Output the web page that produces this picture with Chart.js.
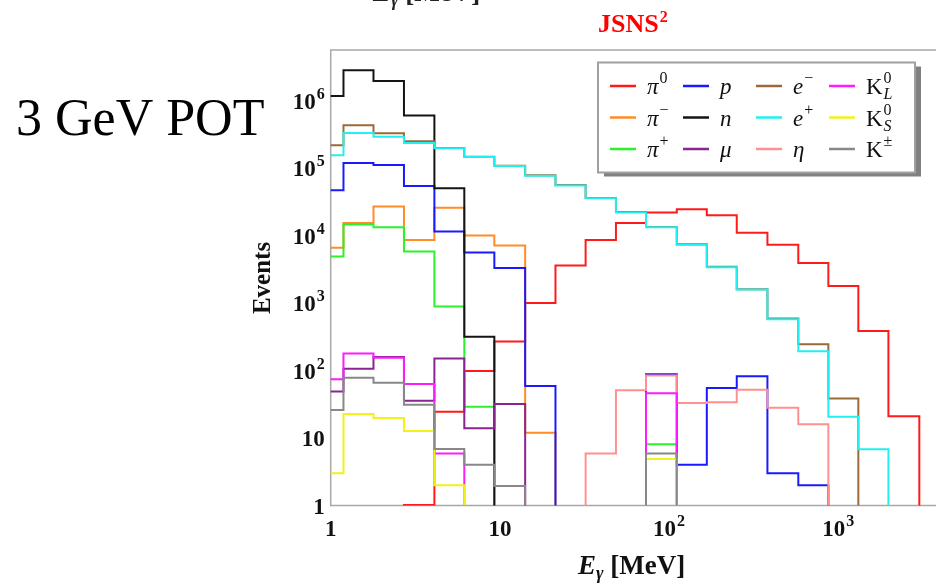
<!DOCTYPE html>
<html lang="en">
<head>
<meta charset="utf-8">
<title>JSNS² - photon energy spectrum by parent particle</title>
<script src="https://cdn.jsdelivr.net/npm/chart.js@4.4.1/dist/chart.umd.min.js"></script>
<style>
    html, body { margin: 0; padding: 0; background: #ffffff; overflow: hidden; }
    #wrap { width: 960px; height: 583px; }
</style>
</head>
<body>
<div id="wrap"><canvas id="spectrum" width="960" height="583"></canvas></div>
<script>
/**
 * Photon energy spectrum (E_gamma) per parent particle, 3 GeV POT, JSNS².
 * Step histograms on log-log axes, drawn as stepped Chart.js lines.
 */

// Bin edges in MeV (20 log-spaced bins, the first one is cut by the axis)
const BIN_EDGES = [0.79, 1.19, 1.79, 2.71, 4.10, 6.16, 9.27, 14.1, 21.3, 32.1, 48.5,
                   73.0, 111, 167, 251, 381, 580, 873, 1313, 1977, 3010];

// Events per bin (0 = empty bin)
const PI0    = [0, 0, 0, 1.02, 24.5, 98, 270, 1000, 3600, 8600, 15300, 22000, 24400, 20000, 11000, 7300, 3900, 1780, 385, 21];
const PI_MIN = [6600, 15300, 27000, 8600, 25700, 10000, 7100, 12, 0, 0, 0, 0, 0, 0, 0, 0, 0, 0, 0, 0];
const PI_PLU = [4900, 14500, 13200, 5800, 890, 29, 0, 0, 0, 0, 0, 8.1, 0, 0, 0, 0, 0, 0, 0, 0];
const PROTON = [47000, 119000, 111000, 54000, 11500, 5600, 3300, 59, 0, 0, 0, 88, 4.0, 55, 82, 3.0, 2.0, 0, 0, 0];
const NEUTRON = [1170000, 2800000, 1950000, 600000, 50000, 315, 0, 0, 0, 0, 0, 0, 0, 0, 0, 0, 0, 0, 0, 0];
const MUON   = [49, 106, 159, 35.5, 150, 13.9, 32, 0, 0, 0, 0, 0, 0, 0, 0, 0, 0, 0, 0, 0];
const E_MIN  = [218000, 430000, 327000, 250000, 198000, 147000, 108000, 78000, 56000, 36000, 22200, 13400, 7400, 3450, 1600, 590, 245, 38.6, 0, 0];
const E_PLU  = [155000, 330000, 290000, 235000, 196000, 146000, 107000, 77000, 55000, 35500, 22000, 13200, 7300, 3400, 1580, 575, 193, 20.6, 6.8, 0];
const ETA    = [0, 0, 0, 0, 0, 0, 0, 0, 0, 5.9, 51, 84, 33, 34, 52, 28, 16, 0, 0, 0];
const K0_L   = [74, 178, 155, 63, 5.9, 0, 0, 0, 0, 0, 0, 46, 0, 0, 0, 0, 0, 0, 0, 0];
const K0_S   = [3.0, 22.6, 19.7, 12.7, 2.0, 0, 0, 0, 0, 0, 0, 4.9, 0, 0, 0, 0, 0, 0, 0, 0];
const K_PM   = [26, 78, 66, 31, 6.9, 4.0, 1.95, 0, 0, 0, 0, 5.9, 0, 0, 0, 0, 0, 0, 0, 0];

// Axis tick labels: [value, base text, exponent]
const X_TICKS = [[1, '1', ''], [10, '10', ''], [100, '10', '2'], [1000, '10', '3']];
const Y_TICKS = [[1, '1', ''], [10, '10', ''], [100, '10', '2'], [1e3, '10', '3'],
                 [1e4, '10', '4'], [1e5, '10', '5'], [1e6, '10', '6']];

// Legend order is column-major, same as the drawing order (later = on top)
const SERIES = [
    { data: PI0,     color: '#ff1a1a', sym: 'π', sup: '0', italic: true },
    { data: PI_MIN,  color: '#ff8c26', sym: 'π', sup: '−', italic: true },
    { data: PI_PLU,  color: '#2bf22b', sym: 'π', sup: '+', italic: true },
    { data: PROTON,  color: '#1a1aff', sym: 'p', italic: true },
    { data: NEUTRON, color: '#141414', sym: 'n', italic: true },
    { data: MUON,    color: '#8a248f', sym: 'μ', italic: true },
    { data: E_MIN,   color: '#9c6a38', sym: 'e', sup: '−', italic: true },
    { data: E_PLU,   color: '#22f0f0', sym: 'e', sup: '+', italic: true },
    { data: ETA,     color: '#ff9090', sym: 'η', italic: true },
    { data: K0_L,    color: '#ff1aff', sym: 'K', sup: '0', sub: 'L' },
    { data: K0_S,    color: '#f2f21a', sym: 'K', sup: '0', sub: 'S' },
    { data: K_PM,    color: '#888888', sym: 'K', sup: '±' }
];

const SERIF = '"Liberation Serif", "DejaVu Serif", serif';
const FRAME_COLOR = '#a8a8a8';
const EMPTY = 1e-3; // empty bins fall far below the axis and get clipped

/**
 * Turns bin contents into points for a step line (value held until next edge)
 */
function toSteps(values) {
    const points = values.map((v, i) => ({ x: BIN_EDGES[i], y: v > 0 ? v : EMPTY }));
    points.push({ x: BIN_EDGES[values.length], y: EMPTY });
    return points;
}

/**
 * Draws "base^exp" with the given alignment
 */
function drawPower(ctx, base, exp, x, y, align, size, supSize) {
    ctx.font = `bold ${size}px ${SERIF}`;
    const wb = ctx.measureText(base).width;
    ctx.font = `bold ${supSize}px ${SERIF}`;
    const we = exp ? ctx.measureText(exp).width + 1 : 0;
    let x0 = x;
    if (align === 'right') x0 = x - wb - we;
    if (align === 'center') x0 = x - (wb + we) / 2;
    ctx.textAlign = 'left';
    ctx.textBaseline = 'alphabetic';
    ctx.font = `bold ${size}px ${SERIF}`;
    ctx.fillText(base, x0, y);
    if (exp) {
        ctx.font = `bold ${supSize}px ${SERIF}`;
        ctx.fillText(exp, x0 + wb + 1, y - 10);
    }
}

/**
 * Legend box with line samples and particle symbols
 */
function drawLegend(ctx) {
    const box = { x: 598, y: 62.5, w: 317, h: 110 };
    ctx.fillStyle = '#808080';
    ctx.fillRect(box.x + 6, box.y + 4, box.w, box.h);
    ctx.fillStyle = '#ffffff';
    ctx.fillRect(box.x, box.y, box.w, box.h);
    ctx.strokeStyle = '#a0a0a0';
    ctx.lineWidth = 2;
    ctx.strokeRect(box.x, box.y, box.w, box.h);

    SERIES.forEach((s, i) => {
        const col = Math.floor(i / 3);
        const row = i % 3;
        const lx = 610 + col * 73;
        const ly = 86 + row * 31.5;

        ctx.strokeStyle = s.color;
        ctx.lineWidth = 2.5;
        ctx.beginPath();
        ctx.moveTo(lx, ly);
        ctx.lineTo(lx + 26, ly);
        ctx.stroke();

        const tx = lx + 37;
        const base = ly + 8;
        ctx.fillStyle = '#111111';
        ctx.textAlign = 'left';
        ctx.textBaseline = 'alphabetic';
        ctx.font = `${s.italic ? 'italic ' : ''}23px ${SERIF}`;
        ctx.fillText(s.sym, tx, base);
        const w = ctx.measureText(s.sym).width;
        if (s.sup) {
            ctx.font = `16px ${SERIF}`;
            ctx.fillText(s.sup, tx + w + 1, base - 11);
        }
        if (s.sub) {
            ctx.font = `italic 16px ${SERIF}`;
            ctx.fillText(s.sub, tx + w + 1, base + 5);
        }
    });
}

/**
 * "E_gamma [MeV]" with subscript
 */
function drawEnergyLabel(ctx, x, y, color) {
    ctx.fillStyle = color;
    ctx.textAlign = 'left';
    ctx.textBaseline = 'alphabetic';
    ctx.font = `italic bold 27px ${SERIF}`;
    ctx.fillText('E', x, y);
    let cx = x + ctx.measureText('E').width;
    ctx.font = `italic bold 18px ${SERIF}`;
    ctx.fillText('γ', cx, y + 5);
    cx += ctx.measureText('γ').width;
    ctx.font = `bold 27px ${SERIF}`;
    ctx.fillText(' [MeV]', cx, y);
}

// Plugin for frame, tick labels, titles and legend
const decorPlugin = {
    id: 'decor',
    beforeDatasetsDraw(chart) {
        const { ctx, chartArea: a } = chart;
        ctx.save();
        ctx.strokeStyle = FRAME_COLOR;
        ctx.lineWidth = 1.5;
        ctx.strokeRect(a.left, a.top, a.right - a.left, a.bottom - a.top);
        ctx.restore();
    },
    afterDatasetsDraw(chart) {
        const { ctx, chartArea: a, scales } = chart;
        ctx.save();

        drawLegend(ctx);

        // Tick labels
        ctx.fillStyle = '#111111';
        Y_TICKS.forEach(([v, base, exp]) => {
            drawPower(ctx, base, exp, a.left - 6, scales.y.getPixelForValue(v) + 8, 'right', 23, 16);
        });
        X_TICKS.forEach(([v, base, exp]) => {
            drawPower(ctx, base, exp, scales.x.getPixelForValue(v), 536, 'center', 23, 16);
        });

        // Axis titles
        ctx.save();
        ctx.translate(264, 278);
        ctx.rotate(-Math.PI / 2);
        ctx.font = `bold 25px ${SERIF}`;
        ctx.textAlign = 'center';
        ctx.textBaseline = 'middle';
        ctx.fillText('Events', 0, 0);
        ctx.restore();

        drawEnergyLabel(ctx, 578, 574, '#111111');
        // cut-off label of the panel above
        drawEnergyLabel(ctx, 373, 0.5, '#222222');

        // Panel title
        ctx.fillStyle = '#ff0000';
        ctx.font = `bold 26px ${SERIF}`;
        ctx.textAlign = 'left';
        ctx.fillText('JSNS', 598, 32);
        const wt = ctx.measureText('JSNS').width;
        ctx.font = `bold 16px ${SERIF}`;
        ctx.fillText('2', 598 + wt + 1, 22);

        // Beam note
        ctx.fillStyle = '#000000';
        ctx.font = `52px ${SERIF}`;
        ctx.fillText('3 GeV POT', 16, 135);

        ctx.restore();
    }
};

const datasets = SERIES.map((s, i) => ({
    data: toSteps(s.data),
    borderColor: s.color,
    borderWidth: 2,
    stepped: 'before',
    pointRadius: 0,
    fill: false,
    order: SERIES.length - i
}));

new Chart(document.getElementById('spectrum'), {
    type: 'line',
    data: { datasets },
    options: {
        responsive: false,
        animation: false,
        layout: { padding: { left: 260, top: 50, right: 10, bottom: 0 } },
        plugins: {
            legend: { display: false },
            tooltip: { enabled: false }
        },
        scales: {
            x: {
                type: 'logarithmic',
                min: 1,
                max: 4570,
                grid: { display: false },
                border: { display: false },
                ticks: { display: false },
                afterFit: (scale) => { scale.height = 77.5; }
            },
            y: {
                type: 'logarithmic',
                min: 1,
                max: 5.6e6,
                grid: { display: false },
                border: { display: false },
                ticks: { display: false },
                afterFit: (scale) => { scale.width = 70.7; }
            }
        }
    },
    plugins: [decorPlugin]
});
</script>
</body>
</html>
